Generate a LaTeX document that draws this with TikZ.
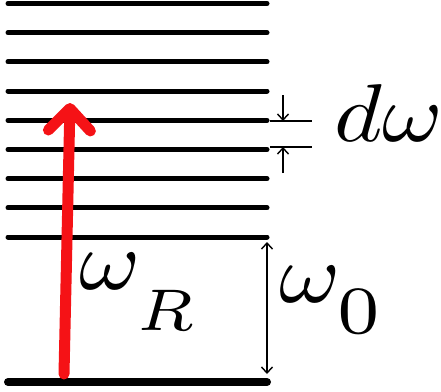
\documentclass[tikz,border=0pt]{standalone}
\usepackage{amsmath,amssymb}
\usepackage{tikz}
\usetikzlibrary{arrows.meta,calc}
\usepackage{xcolor}
\definecolor{laser}{RGB}{245,18,22}

\begin{document}
\begin{tikzpicture}[x=1pt, y=-1pt, level/.style={line width=5pt,line cap=round}, gap/.style={line width=1.4pt,-{Straight Barb[length=6pt,width=11pt]}}, lbl/.style={inner sep=0pt,anchor=base west}]
  \useasboundingbox (0,0) rectangle (441,391);
  \foreach \k in {0,...,8} {
    \coordinate (l\k) at (8,{3.5+29.2*\k});
    \coordinate (r\k) at (267,{3.5+29.2*\k});
    \draw[level] (l\k) -- (r\k);
  }
  \coordinate (gl) at (8,382);
  \coordinate (gr) at (267,382);
  \draw[level,line width=8pt] (gl) -- (gr);
  % pump arrow
  \coordinate (pb) at (64,374);
  \coordinate (pt) at (70,103);
  \draw[laser,line width=11pt,line cap=round,-{Straight Barb[round,length=22pt,width=42pt]}] (pb) -- (pt);
  % level spacing
  \coordinate (ua) at (270,121);
  \coordinate (ub) at (312,121);
  \coordinate (da) at (270,147);
  \coordinate (db) at (312,147);
  \draw[line width=1.4pt] (ua) -- (ub);
  \draw[line width=1.4pt] (da) -- (db);
  \coordinate (dn) at (283,95);
  \coordinate (up) at (283,173);
  \draw[gap] (dn) -- (dn |- ua);
  \draw[gap] (up) -- (up |- da);
  \node[lbl,xscale=9.2,yscale=8.2] (dw) at (333,141) {$d\omega$};
  % transition frequency
  \coordinate (wt) at (267,242);
  \coordinate (wb) at (267,374);
  \draw[gap,{Straight Barb[length=6pt,width=11pt]}-{Straight Barb[length=6pt,width=11pt]}] (wt) -- (wb);
  \node[lbl,xscale=9.3,yscale=8.4] (w0) at (278,302) {$\omega_{\raisebox{-2.2pt}{\scalebox{1.15}{$\scriptstyle 0$}}}$};
  \node[lbl,xscale=9.3,yscale=8.4] (wR) at (78,289) {$\omega_{\raisebox{-3.4pt}{$\scriptstyle R$}}$};
\end{tikzpicture}
\end{document}
